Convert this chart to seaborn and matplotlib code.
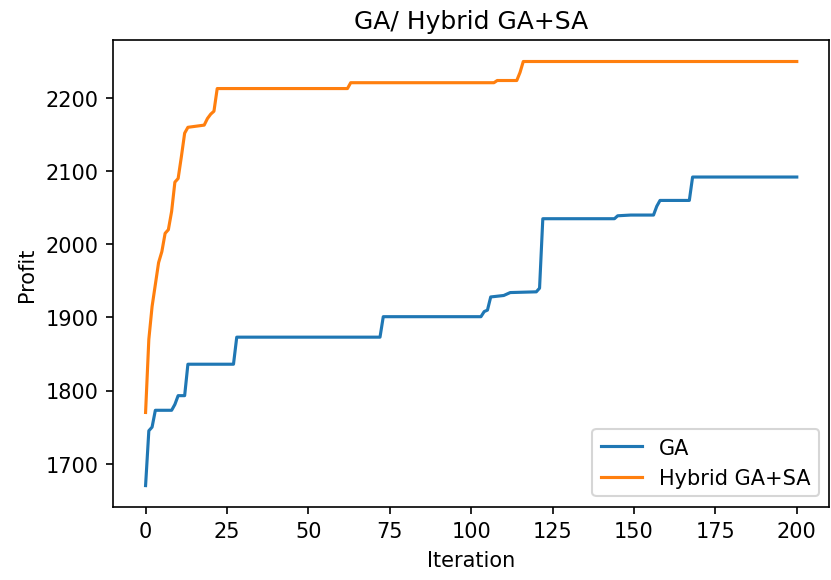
import pandas as pd
import seaborn as sns
import matplotlib
matplotlib.use('Agg')
import matplotlib.pyplot as plt

# 읽어낸 값 (iteration, profit) - 꺾이는 지점만
ga_iter = [0, 1, 2, 3, 8, 9, 10, 12, 13, 27, 28, 72, 73, 103, 104, 105, 106,
           110, 112, 120, 121, 122, 144, 145, 149, 156, 157, 158, 167, 168, 200]
ga_profit = [1670, 1745, 1750, 1773, 1773, 1781, 1793, 1793, 1836, 1836, 1873,
             1873, 1901, 1901, 1908, 1910, 1928, 1930, 1934, 1935, 1940, 2035,
             2035, 2039, 2040, 2040, 2052, 2060, 2060, 2092, 2092]

hy_iter = [0, 1, 2, 3, 4, 5, 6, 7, 8, 9, 10, 11, 12, 13, 18, 19, 20, 21, 22,
           62, 63, 107, 108, 114, 115, 116, 200]
hy_profit = [1770, 1870, 1915, 1945, 1975, 1990, 2015, 2020, 2045, 2085, 2090,
             2120, 2152, 2160, 2163, 2172, 2178, 2182, 2213, 2213, 2221, 2221,
             2224, 2224, 2235, 2250, 2250]

ga_df = pd.DataFrame({'Iteration': ga_iter, 'Profit': ga_profit})
hy_df = pd.DataFrame({'Iteration': hy_iter, 'Profit': hy_profit})

fig, ax = plt.subplots(figsize=(5.54, 3.873), dpi=150)
fig.subplots_adjust(left=0.136, right=0.998, top=0.929, bottom=0.126)

sns.lineplot(data=ga_df, x='Iteration', y='Profit', ax=ax, color='#1f77b4',
             label='GA', estimator=None, sort=False)
sns.lineplot(data=hy_df, x='Iteration', y='Profit', ax=ax, color='#ff7f0e',
             label='Hybrid GA+SA', estimator=None, sort=False)

ax.set_title('GA/ Hybrid GA+SA')
ax.set_xlabel('Iteration')
ax.set_ylabel('Profit')
ax.set_xticks([0, 25, 50, 75, 100, 125, 150, 175, 200])
ax.legend(loc='lower right')

fig.savefig('out.png', dpi=150)
